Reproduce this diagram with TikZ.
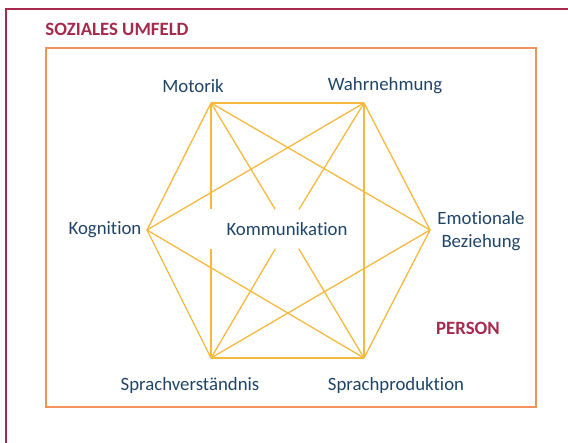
\documentclass[tikz,border=0pt]{standalone}
\usepackage{fontspec}
\setmainfont{Carlito}[Ligatures=NoCommon]
\usepackage{xcolor}
\definecolor{umfeldred}{HTML}{A52A4E}
\definecolor{personorange}{HTML}{F4915C}
\definecolor{netyellow}{HTML}{F5B940}
\definecolor{labelblue}{HTML}{1F4468}

\begin{document}
\begin{tikzpicture}[x=1pt, y=-1pt,
    net/.style={draw=netyellow, line width=1.3pt},
    skill/.style={text=labelblue, font=\fontsize{18.8}{23}\selectfont, align=center, inner sep=0pt},
    area/.style={text=umfeldred, font=\bfseries\fontsize{18.8}{23}\selectfont, inner sep=0pt}]
    \useasboundingbox (0,0) rectangle (568,443);

    % Soziales Umfeld
    \draw[umfeldred, line width=2pt] (6,470) |- (600,9);
    \node[area] (umfeld) at (117,29) {SOZIALES UMFELD};

    % Person
    \draw[personorange, line width=2pt] (46,48) rectangle (536,407);
    \node[area] (person) at (468,328) {PERSON};

    % Ecken des Sechsecks
    \coordinate (vmot) at (211,103);
    \coordinate (vwahr) at (364,103);
    \coordinate (vkogn) at (147,230);
    \coordinate (vemot) at (430,230);
    \coordinate (vsverst) at (211,358);
    \coordinate (vsprod) at (364,358);

    % Beschriftungen
    \node[skill] (motorik) at (193,86) {Motorik};
    \node[skill] (wahr) at (385,86) {Wahrnehmung};
    \node[skill] (kogn) at (105,230) {Kognition};
    \node[skill] (emot) at (481,231) {Emotionale\\Beziehung};
    \node[skill] (sverst) at (190,385) {Sprachverständnis};
    \node[skill] (sprod) at (396,385) {Sprachproduktion};
    \node[skill, minimum height=39pt] (komm) at (287,229) {Kommunikation};

    % Verbindungen
    \foreach \a/\b in {vmot/vwahr, vwahr/vemot, vemot/vsprod, vsprod/vsverst,
        vsverst/vkogn, vkogn/vmot, vmot/vemot, vwahr/vkogn, vkogn/vsprod,
        vemot/vsverst, vwahr/vsprod}
        \draw[net] (\a) -- (\b);
    \foreach \a in {vmot, vwahr, vsverst, vsprod}
        \draw[net] (\a) -- (komm);
    \draw[net] (vmot) -- (vmot |- komm.north);
    \draw[net] (vsverst) -- (vsverst |- komm.south);
\end{tikzpicture}
\end{document}
